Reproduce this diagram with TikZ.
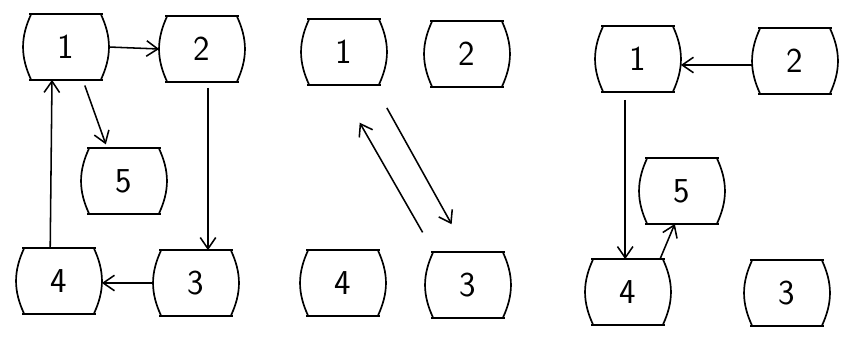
\documentclass[tikz,border=0pt]{standalone}
\usetikzlibrary{arrows.meta}

\tikzset{
  roll/.style={minimum width=2.1cm, minimum height=1.6cm, inner sep=0pt, font=\sffamily\Huge},
  link/.style={-{Straight Barb[length=8pt,width=11pt]}, line width=1.1pt},
}

\begin{document}
\begin{tikzpicture}[x=0.025cm, y=-0.025cm, line width=1.2pt]
\useasboundingbox (0,0) rectangle (842,337);

% first graph
\node[roll] (A1) at (66,47) {1};
\node[roll] (A2) at (202,49) {2};
\node[roll] (A5) at (124,181) {5};
\node[roll] (A4) at (59,281) {4};
\node[roll] (A3) at (196,283) {3};

% second graph
\node[roll] (B1) at (344,52) {1};
\node[roll] (B2) at (467,54) {2};
\node[roll] (B4) at (343,283) {4};
\node[roll] (B3) at (468,285) {3};

% third graph
\node[roll] (C1) at (638,59) {1};
\node[roll] (C2) at (795,61) {2};
\node[roll] (C5) at (682,191) {5};
\node[roll] (C4) at (628,292) {4};
\node[roll] (C3) at (787,293) {3};

% outlines of the boxes
\foreach \n in {A1,A2,A3,A4,A5,B1,B2,B3,B4,C1,C2,C3,C4,C5} {
  \draw ([xshift=4.5pt]\n.north west) -- ([xshift=-4.5pt]\n.north east);
  \draw ([xshift=4.5pt]\n.south west) -- ([xshift=-4.5pt]\n.south east);
  \draw ([xshift=5.7pt]\n.north west) to[bend right=25] ([xshift=5.7pt]\n.south west);
  \draw ([xshift=-5.7pt]\n.north east) to[bend left=25] ([xshift=-5.7pt]\n.south east);
}

\draw[link] (A1.east) -- (A2.west);
\draw[link, shorten <=0.15cm, shorten >=0.1cm] ([xshift=0.42cm]A1.south) -- ([xshift=-0.42cm]A5.north);
\draw[link, shorten <=0.15cm] ([xshift=0.15cm]A2.south) -- ([xshift=0.15cm]A2.south |- A3.north);
\draw[link] (A3.west) -- (A3.west -| A4.east);
\draw[link] ([xshift=-0.22cm]A4.north) -- ([xshift=-0.35cm]A1.south);

\draw[link, shorten <=0.66cm, shorten >=0.8cm] ([xshift=0.75cm]B1.south) -- ([xshift=-0.02cm]B3.north);
\draw[link, shorten <=0.57cm, shorten >=1.09cm] ([xshift=-0.85cm]B3.north) -- ([xshift=-0.15cm]B1.south);

\draw[link] ([yshift=-0.1cm]C2.west) -- ([yshift=-0.1cm]C2.west -| C1.east);
\draw[link, shorten <=0.2cm] ([xshift=-0.32cm]C1.south) -- ([xshift=-0.32cm]C1.south |- C4.north);
\draw[link] ([xshift=0.8cm]C4.north) -- ([xshift=-0.18cm]C5.south);
\end{tikzpicture}
\end{document}
